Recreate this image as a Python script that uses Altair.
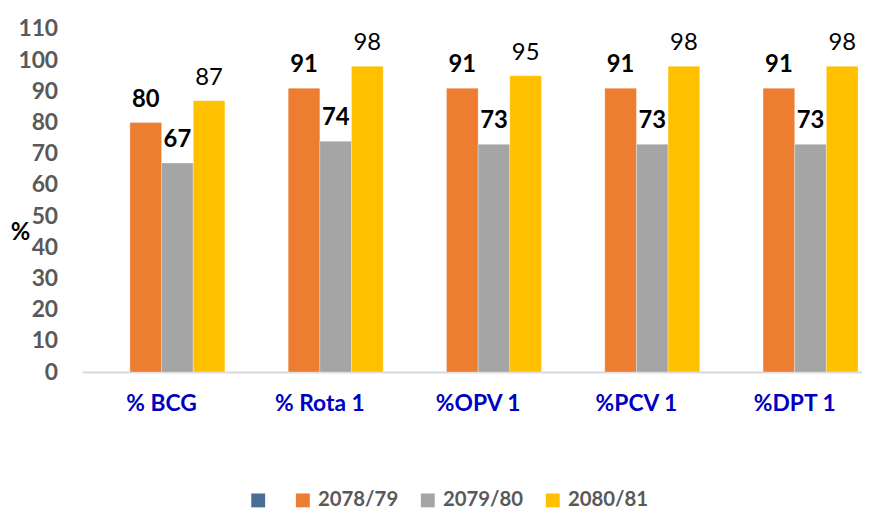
import altair as alt
import pandas as pd

categories = ["% BCG", "% Rota 1", "%OPV 1", "%PCV 1", "%DPT 1"]
series = ["2078/79", "2079/80", "2080/81"]
v_2078_79 = [80, 91, 91, 91, 91]
v_2079_80 = [67, 74, 73, 73, 73]
v_2080_81 = [87, 98, 95, 98, 98]
legend_series = [" ", "2078/79", "2079/80", "2080/81"]
colors = ["#4a6d94", "#ed7d31", "#a5a5a5", "#ffc000"]
y_ticks = [0, 10, 20, 30, 40, 50, 60, 70, 80, 90, 100, 110]

rows = []
for s, vals in zip(series, [v_2078_79, v_2079_80, v_2080_81]):
    for c, v in zip(categories, vals):
        rows.append({"category": c, "series": s, "value": v})
df = pd.DataFrame(rows)

FONT = "Lato"

x_enc = alt.X(
    "category:N",
    sort=categories,
    scale=alt.Scale(paddingInner=0.2, paddingOuter=0.0627, align=0.8),
    axis=alt.Axis(
        title=None, labelAngle=0, labelFont=FONT, labelFontSize=23,
        labelFontWeight="bold", labelColor="#0000c0", labelPadding=21,
        ticks=False, domainColor="#d9d9d9", domainWidth=2,
    ),
)
xo_enc = alt.XOffset(
    "series:N",
    scale=alt.Scale(domain=legend_series, paddingInner=0, paddingOuter=0),
)
y_enc = alt.Y(
    "value:Q",
    scale=alt.Scale(domain=[0, 110], nice=False),
    axis=alt.Axis(
        values=y_ticks, title="%", titleAngle=0, titleFont=FONT,
        titleFontSize=24, titleFontWeight="bold", titleColor="#000000",
        titleX=-63, titleY=205, titleAlign="center", titleBaseline="middle",
        labelFont=FONT, labelFontSize=23, labelFontWeight="bold",
        labelColor="#595959", labelPadding=25, ticks=False, domain=False,
        grid=False,
    ),
)
color_enc = alt.Color(
    "series:N",
    scale=alt.Scale(domain=legend_series, range=colors),
    legend=alt.Legend(
        title=None, orient="none", direction="horizontal", legendX=167,
        legendY=465, symbolType="square", symbolSize=196, symbolStrokeWidth=0,
        labelFont=FONT, labelFontSize=20.5, labelFontWeight="bold",
        labelColor="#595959", columnPadding=19, labelOffset=5,
    ),
)

base = alt.Chart(df)

bars = base.mark_bar(stroke="white", strokeWidth=0.6, strokeOpacity=0.5).encode(
    x=x_enc, xOffset=xo_enc, y=y_enc, color=color_enc
)

text_bold = base.transform_filter(
    alt.FieldOneOfPredicate(field="series", oneOf=["2078/79", "2079/80"])
).mark_text(
    baseline="bottom", dy=-11, font=FONT, fontSize=24, fontWeight="bold",
    color="#000000",
).encode(x=x_enc, xOffset=xo_enc, y=y_enc, text="value:Q")

text_norm = base.transform_filter(
    alt.FieldEqualPredicate(field="series", equal="2080/81")
).mark_text(
    baseline="bottom", dy=-11, font=FONT, fontSize=24, fontWeight="normal",
    color="#000000",
).encode(x=x_enc, xOffset=xo_enc, y=y_enc, text="value:Q")

chart = (
    alt.layer(bars, text_bold, text_norm)
    .properties(
        width=786,
        height=346,
        autosize=alt.AutoSizeParams(type="none"),
        padding={"left": 75, "top": 19, "right": 0, "bottom": 140},
        background="white",
    )
    .configure_view(stroke=None)
)

chart.save("out.html", embed_options={"renderer": "svg", "actions": False})
